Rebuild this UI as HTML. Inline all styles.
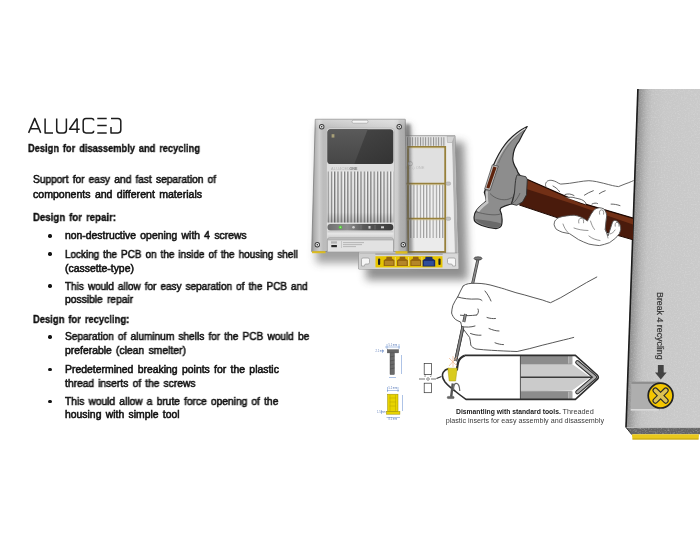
<!DOCTYPE html>
<html><head><meta charset="utf-8">
<style>
html,body{margin:0;padding:0;background:#fff;}
body{width:700px;height:540px;position:relative;overflow:hidden;font-family:"Liberation Sans",sans-serif;}
.t{position:absolute;white-space:nowrap;font-size:10.4px;line-height:10.4px;color:#111;transform-origin:0 0;-webkit-text-stroke:0.55px #111;word-spacing:1.4px;will-change:transform;}
.b{font-weight:bold;-webkit-text-stroke:0.35px #111;word-spacing:1.5px;font-size:10.8px;line-height:10.8px;}
.bl{position:absolute;width:3.3px;height:3.3px;border-radius:50%;background:#141414;left:48.25px;}
svg{position:absolute;left:0;top:0;will-change:transform;}
</style></head><body>
<svg width="700" height="540" viewBox="0 0 700 540">
<g fill="none" stroke="#1c1c1c" stroke-width="1.5" stroke-linejoin="round">
<path d="M28.6,132.9 L34.7,118.4 L40.7,132.9 M30.6,128.8 L38.7,128.8"/>
<path d="M45.1,118.4 V132.9 H53"/>
<path d="M56.7,118.4 V130 Q56.7,132.9 59.6,132.9 H63.5 Q66.4,132.9 66.4,130 V118.4"/>
<path d="M77.1,118.4 L69.5,129.2 H79.7 M77.1,118.4 V133.1"/>
<path d="M93.7,120.6 Q93.7,118.4 91.5,118.4 H86 Q83.2,118.4 83.2,121.2 V130.1 Q83.2,132.9 86,132.9 H91.5 Q93.7,132.9 93.7,130.7"/>
<path d="M97.3,118.4 H106.7 M97.3,125.6 H106.7 M97.3,132.9 H106.7"/>
<path d="M111,118.4 H118 Q120.8,118.4 120.8,121.2 V130.1 Q120.8,132.9 118,132.9 H111 V127"/>
</g>

<!-- BIG PANEL -->
<defs>
<linearGradient id="pgr" gradientUnits="userSpaceOnUse" x1="631.5" y1="258" x2="701" y2="260.4">
<stop offset="0" stop-color="#888"/><stop offset="0.07" stop-color="#a0a0a0"/><stop offset="0.14" stop-color="#b6b6b6"/><stop offset="0.22" stop-color="#c3c3c3"/><stop offset="0.4" stop-color="#c8c8c8"/><stop offset="1" stop-color="#cacaca"/>
</linearGradient>
<filter id="noise" x="0" y="0" width="100%" height="100%"><feTurbulence type="fractalNoise" baseFrequency="0.7" numOctaves="2" seed="5" result="t"/><feColorMatrix in="t" type="matrix" values="0 0 0 0 1  0 0 0 0 1  0 0 0 0 1  1.2 0 0 0 -0.55" result="w"/><feComposite in="w" in2="SourceGraphic" operator="in"/></filter>
</defs>
<polygon points="637.6,89 700,89 700,427.4 625.8,427.4" fill="url(#pgr)"/>
<polygon points="637.6,89 700,89 700,427.4 625.8,427.4" fill="#000" filter="url(#noise)" opacity="0.35"/>
<!-- cut face -->
<polygon points="625.8,427.4 700,427.4 700,434.3 631.6,434.3" fill="#646464"/>
<polygon points="625.8,427.4 700,427.4 700,434.3 631.6,434.3" fill="#000" filter="url(#noise)" opacity="0.6"/>
<line x1="626" y1="427.6" x2="700" y2="427.6" stroke="#d4d4d4" stroke-width="0.6"/>
<!-- yellow strip -->
<polygon points="631.8,434.3 699,434.3 698.6,439.4 632.6,439.4" fill="#e9c81c"/>
<line x1="632.4" y1="439" x2="698.6" y2="439" stroke="#b89a10" stroke-width="0.8"/>
<!-- dark left edge -->
<line x1="637.9" y1="89" x2="626" y2="427.4" stroke="#1c1c1c" stroke-width="1.6"/>
<line x1="626" y1="427.4" x2="631.8" y2="434.6" stroke="#333" stroke-width="1"/>
<!-- recessed pocket -->
<polygon points="631.7,381.7 660,381.7 660,410.3 630.7,410.3" fill="#aeaeae"/>
<rect x="631.5" y="381.7" width="28" height="2.2" fill="#8e8e8e"/>
<rect x="630.8" y="409.2" width="28" height="1.3" fill="#e4e4e4"/>
<!-- screw -->
<circle cx="660.6" cy="395.6" r="12.4" fill="#f4c600" stroke="#222" stroke-width="1.7"/>
<path d="M655.4,390.4 L660.6,395.6 L665.8,390.4 M655.4,400.8 L660.6,395.6 L665.8,400.8" stroke="#2a2a2a" stroke-width="5.8" stroke-linecap="round" fill="none"/>
<path d="M655.4,390.4 L660.6,395.6 L665.8,390.4 M655.4,400.8 L660.6,395.6 L665.8,400.8" stroke="#dcc254" stroke-width="3.6" stroke-linecap="round" fill="none"/>
<!-- arrow -->
<rect x="657.9" y="365" width="5.8" height="8" fill="#434343"/>
<polygon points="655,372.6 666.6,372.6 660.8,379.4" fill="#434343"/>
<!-- rotated text -->
<text transform="translate(657.2,292) rotate(90)" font-family="Liberation Sans" font-size="9.4" fill="#363636" stroke="#363636" stroke-width="0.2" textLength="67.6" lengthAdjust="spacingAndGlyphs">Break 4 recycling</text>

<defs>
<filter id="blur4" x="-30%" y="-30%" width="160%" height="160%"><feGaussianBlur stdDeviation="4"/></filter>
<filter id="blur2" x="-30%" y="-30%" width="160%" height="160%"><feGaussianBlur stdDeviation="1.5"/></filter>
<linearGradient id="scrL" x1="0" y1="0" x2="0" y2="1"><stop offset="0" stop-color="#5a5a5a"/><stop offset="1" stop-color="#464646"/></linearGradient>
<linearGradient id="scrR" x1="0" y1="0" x2="1" y2="1"><stop offset="0" stop-color="#4a4a4a"/><stop offset="1" stop-color="#333"/></linearGradient>
<linearGradient id="fr" x1="0" y1="0" x2="1" y2="0"><stop offset="0" stop-color="#939393"/><stop offset="0.03" stop-color="#b0b0b0"/><stop offset="0.08" stop-color="#cecece"/><stop offset="0.12" stop-color="#bcbcbc"/><stop offset="0.5" stop-color="#c8c8c8"/><stop offset="0.86" stop-color="#d2d2d2"/><stop offset="0.9" stop-color="#cacaca"/><stop offset="0.925" stop-color="#b2b2b2"/><stop offset="0.975" stop-color="#aaaaaa"/><stop offset="1" stop-color="#8c8c8c"/></linearGradient>
<linearGradient id="frT" x1="0" y1="0" x2="0" y2="1"><stop offset="0" stop-color="#fff" stop-opacity="0.35"/><stop offset="1" stop-color="#fff" stop-opacity="0"/></linearGradient>
<linearGradient id="strip" x1="0" y1="0" x2="0" y2="1"><stop offset="0" stop-color="#c8c8c8"/><stop offset="0.4" stop-color="#e6e6e6"/><stop offset="1" stop-color="#d0d0d0"/></linearGradient>
<linearGradient id="led" x1="0" y1="0" x2="1" y2="0"><stop offset="0" stop-color="#6e6e6e"/><stop offset="0.3" stop-color="#8e8e8e"/><stop offset="0.55" stop-color="#5a5a5a"/><stop offset="1" stop-color="#3a3a3a"/></linearGradient>
<linearGradient id="finshade" x1="0" y1="0" x2="0" y2="1"><stop offset="0" stop-color="#000" stop-opacity="0"/><stop offset="0.8" stop-color="#000" stop-opacity="0.04"/><stop offset="1" stop-color="#000" stop-opacity="0.22"/></linearGradient>
<pattern id="fins" x="327.5" y="0" width="3.29" height="10" patternUnits="userSpaceOnUse"><rect width="3.29" height="10" fill="#f2f2f2"/><rect x="0" width="1.2" height="10" fill="#7c7c7c"/><rect x="1.2" width="0.6" height="10" fill="#b0b0b0"/></pattern>
<pattern id="fins2" x="407" y="0" width="3.2" height="10" patternUnits="userSpaceOnUse"><rect width="3.2" height="10" fill="#f0f0f0"/><rect x="0" width="1.1" height="10" fill="#9a9a9a"/></pattern>
<pattern id="fins3" x="407" y="0" width="2.6" height="10" patternUnits="userSpaceOnUse"><rect width="2.6" height="10" fill="#e4e4e4"/><rect x="0" width="1" height="10" fill="#8e8e8e"/></pattern>
</defs>
<g opacity="0.6" filter="url(#blur4)"><polygon points="412,142 464,142 468,280 366,280 366,264 412,264" fill="#444"/></g>
<g opacity="0.5" filter="url(#blur4)"><polygon points="318,126 410,126 412,263 316,263" fill="#444"/></g>
<polygon points="360,135.7 455,135.7 458.8,269 358.7,269" fill="#e4e4e4" stroke="#8e8e8e" stroke-width="0.8"/>
<polygon points="451.8,137 454.6,137 458,268.3 455.2,268.3" fill="#b4b4b4"/>
<polygon points="445.6,137 451.8,137 455,268 449,268" fill="#ececec"/>
<rect x="405" y="146.5" width="40.5" height="106" fill="#e0e0e0"/>
<rect x="405" y="137.2" width="40.5" height="8.6" fill="url(#fins3)"/>
<rect x="405" y="184.5" width="40.5" height="33.5" fill="url(#fins2)"/>
<rect x="405" y="219.5" width="40.5" height="27" fill="url(#fins2)"/>
<rect x="405" y="238" width="40.5" height="13.5" fill="#ebebeb"/>
<text x="402" y="169" font-family="Liberation Sans" font-size="4" fill="#bbb">CED ◇ ONE</text>
<g fill="none" stroke="#97803a" stroke-width="1.8"><path d="M408,252 V146.8 H445.2 V252 H405"/><path d="M405,183.6 H445.2 M405,218.7 H445.2"/></g>
<g fill="none" stroke="#d8c890" stroke-width="0.5"><path d="M405,148 H444"/><path d="M405,184.8 H444 M405,219.9 H444"/></g>
<rect x="446" y="182.0" width="4.6" height="3.2" rx="1.4" fill="#c4c4c4" stroke="#9a9a9a" stroke-width="0.5"/>
<rect x="446" y="217.1" width="4.6" height="3.2" rx="1.4" fill="#c4c4c4" stroke="#9a9a9a" stroke-width="0.5"/>
<circle cx="410.3" cy="163.7" r="2.1" fill="#e8e8e8" stroke="#a0a0a0" stroke-width="0.7"/>
<path d="M447,136.5 L454.5,136.5 L452.2,142.5 L447.5,142.5 Z" fill="#d4d4d4" stroke="#a0a0a0" stroke-width="0.5"/>
<rect x="359.2" y="253" width="99" height="15.6" fill="#dedede"/>
<rect x="375.2" y="256.2" width="67.5" height="11.3" fill="#e6c400"/>
<rect x="378" y="258.6" width="2.2" height="6.4" rx="1" fill="#222"/>
<rect x="438.4" y="258.6" width="2.2" height="6.4" rx="1" fill="#222"/>
<rect x="359.5" y="252.5" width="98" height="2.6" fill="#8a8a8a" opacity="0.6"/>
<polygon points="386.4,256.8 391.9,256.8 391.9,258.4 394.59999999999997,260.2 394.59999999999997,265.9 383.7,265.9 383.7,260.2 386.4,258.4" fill="#94650f"/>
<rect x="384.9" y="261" width="8.5" height="4.2" fill="#b48628"/>
<rect x="394.8" y="257" width="1" height="9" fill="#efd870"/>
<polygon points="399.7,256.8 405.2,256.8 405.2,258.4 407.9,260.2 407.9,265.9 397.0,265.9 397.0,260.2 399.7,258.4" fill="#94650f"/>
<rect x="398.2" y="261" width="8.5" height="4.2" fill="#b48628"/>
<rect x="408.1" y="257" width="1" height="9" fill="#efd870"/>
<polygon points="413.0,256.8 418.5,256.8 418.5,258.4 421.2,260.2 421.2,265.9 410.3,265.9 410.3,260.2 413.0,258.4" fill="#94650f"/>
<rect x="411.5" y="261" width="8.5" height="4.2" fill="#b48628"/>
<rect x="421.40000000000003" y="257" width="1" height="9" fill="#efd870"/>
<polygon points="425.4,256.8 432.4,256.8 432.4,258.4 435.2,260.2 435.2,266.6 422.6,266.6 422.6,260.2 425.4,258.4" fill="#1b2c68"/>
<rect x="424" y="261" width="9.8" height="4.6" fill="#2e4e9a"/>
<rect x="359.3" y="253.5" width="16" height="15" fill="#cfcfcf"/>
<path d="M361.5,266 V259.5 Q361.5,258 363,258 H368 Q369.5,258 369.5,259.5 V262.5 Q369.5,264 368,264 H366 Q364.5,264 364.5,265.5 V266 Z" fill="#f6f6f6" stroke="#8a8a8a" stroke-width="0.6"/>
<rect x="442.7" y="253.5" width="15" height="15" fill="#d8d8d8"/>
<path d="M455.5,266 V259.5 Q455.5,258 454,258 H449 Q447.5,258 447.5,259.5 V262.5 Q447.5,264 449,264 H451 Q452.5,264 452.5,265.5 V266 Z" fill="#f6f6f6" stroke="#8a8a8a" stroke-width="0.6"/>
<g opacity="0.6" filter="url(#blur2)"><polygon points="405,124 410.5,124 412.5,253 405,253" fill="#555"/></g>
<polygon points="315.3,119.3 405.2,119.3 407.2,251.6 311.7,251.6" fill="url(#fr)" stroke="#7e7e7e" stroke-width="0.8"/>
<polygon points="315.3,119.3 405.2,119.3 405.4,128.5 315.1,128.5" fill="url(#frT)"/>
<rect x="352" y="120.2" width="16" height="3" rx="1.5" fill="#f6f6f6" stroke="#8a8a8a" stroke-width="0.5"/>
<rect x="326.4" y="128" width="68" height="123.6" rx="3.2" fill="#dedede" stroke="#b0b0b0" stroke-width="0.6"/>
<rect x="327.5" y="129.2" width="65.8" height="34.8" rx="3.2" fill="url(#scrR)"/>
<path d="M330.7,129.2 H367.7 L354.3,164 H330.7 Q327.5,164 327.5,160.8 V132.4 Q327.5,129.2 330.7,129.2 Z" fill="url(#scrL)"/>
<rect x="331.6" y="134.2" width="2.8" height="3.4" fill="#a8a078"/>
<text x="331" y="169.6" font-family="Liberation Sans" font-size="3.8" fill="#b4b4b4" letter-spacing="0.25">ALU4CED</text><text x="349.5" y="169.6" font-family="Liberation Sans" font-size="3.6" fill="#777" font-weight="bold">ONE</text>
<rect x="327.5" y="171.5" width="65.8" height="51" fill="url(#fins)"/>
<rect x="327.5" y="171.5" width="65.8" height="51" fill="url(#finshade)"/>
<rect x="327.5" y="223.9" width="65.8" height="6.7" rx="3" fill="url(#led)"/>
<circle cx="340.4" cy="227.2" r="1.7" fill="#58c840"/><circle cx="340.4" cy="227.2" r="0.8" fill="#9ef08a"/>
<g fill="#cfcfcf"><circle cx="353.5" cy="227.3" r="1.3"/><rect x="368.5" y="226" width="2" height="2.6"/><rect x="381" y="226.3" width="3" height="2"/></g>
<g stroke="#8a8a8a" stroke-width="0.5"><line x1="345" y1="225" x2="345" y2="229.5"/><line x1="361" y1="225" x2="361" y2="229.5"/><line x1="375" y1="225" x2="375" y2="229.5"/></g>
<rect x="327.5" y="230.8" width="65.8" height="7" fill="url(#strip)"/>
<path d="M327.3,251.6 V240 Q327.3,237.9 329.5,237.9 H391.3 Q393.5,237.9 393.5,240 V251.6" fill="#e2e2e2" stroke="#8e8e8e" stroke-width="0.7"/>
<rect x="327.8" y="238.4" width="65.3" height="2" fill="#b4b4b4"/>
<rect x="331" y="241.3" width="6" height="2.3" fill="#b4b4b4"/><rect x="331.3" y="245" width="5.6" height="2.2" fill="#2a2a2a"/>
<rect x="341" y="241" width="0.5" height="7" fill="#aaa"/>
<g fill="#b0b0b0"><rect x="343" y="242.2" width="21" height="0.9"/><rect x="343" y="244.2" width="19" height="0.9"/><rect x="343" y="246.2" width="13" height="0.9"/></g>
<circle cx="321.7" cy="126.7" r="2.7" fill="#3a3a3a"/><circle cx="321.7" cy="126.7" r="1.8" fill="#f0f0f0"/><circle cx="321.7" cy="126.7" r="0.8" fill="#222"/>
<circle cx="399.2" cy="126.7" r="2.7" fill="#3a3a3a"/><circle cx="399.2" cy="126.7" r="1.8" fill="#f0f0f0"/><circle cx="399.2" cy="126.7" r="0.8" fill="#222"/>
<circle cx="317.3" cy="244.7" r="2.7" fill="#3a3a3a"/><circle cx="317.3" cy="244.7" r="1.8" fill="#f0f0f0"/><circle cx="317.3" cy="244.7" r="0.8" fill="#222"/>
<circle cx="403.3" cy="244.7" r="2.7" fill="#3a3a3a"/><circle cx="403.3" cy="244.7" r="1.8" fill="#f0f0f0"/><circle cx="403.3" cy="244.7" r="0.8" fill="#222"/>
<rect x="312" y="251.2" width="13.5" height="2" fill="#dcbc20"/>
<rect x="395.5" y="251.2" width="12" height="2.4" fill="#dcbc20"/>
<!-- NAIL (behind hand) -->
<line x1="478" y1="259.2" x2="455.6" y2="361" stroke="#3a3a3a" stroke-width="3"/>
<line x1="478" y1="259.2" x2="455.6" y2="361" stroke="#8a8a8a" stroke-width="1.6"/>
<ellipse cx="478" cy="258.4" rx="4" ry="1.6" fill="#7a7a7a" stroke="#333" stroke-width="0.7"/>
<!-- LEFT HAND -->
<path d="M463.1,286 C466,283.5 470,283.2 476,283.3 C483,283.3 489,284.5 494,286 C500,287.8 504,288.7 506.8,289.8 C513,292 519,293.6 524.8,295 C531,296.8 537,298.6 542.8,300.1 C545.5,301.2 548,302 550.5,302.7 C554,301 557.5,299.3 560.8,297.6 C566,294.5 571,291.5 576.2,288.6 C583,284.5 590,280.5 596.8,277 L597,336 C590,336.5 582,337 573.7,337.4 C570,338.4 567,339.2 563.4,340 C556,341.8 549.5,343.5 542.8,345.1 C534,347.5 525.5,349.8 517.1,351.5 C508,351.2 499.5,350.8 491.4,350.3 C486,350 481,349.6 476,349 C473.5,348 471.5,346.8 470.8,345.1 C470.5,342.5 470.3,339.8 469.6,337.4 C468.3,335.7 467,334 465.7,332.3 C464.4,330.5 463.2,328.8 461.9,327.1 C461.5,325.5 461.2,323.8 460.6,322 C458.8,321.3 457,320.5 455.4,319.4 C453.5,317.5 452.2,315.3 451.6,313 C451.7,310.5 452.2,307.8 452.9,305.3 C454.3,302.3 456,299.3 458,296.3 C459.6,292.8 461.3,289.3 463.1,286 Z" fill="#fff" stroke="none"/>
<g fill="none" stroke="#444" stroke-width="0.9" stroke-linecap="round" stroke-linejoin="round">
<path d="M463.1,286 C466,283.5 470,283.2 476,283.3 C483,283.3 489,284.5 494,286 C500,287.8 504,288.7 506.8,289.8 C513,292 519,293.6 524.8,295 C531,296.8 537,298.6 542.8,300.1 C545.5,301.2 548,302 550.5,302.7 C554,301 557.5,299.3 560.8,297.6 C566,294.5 571,291.5 576.2,288.6 C583,284.5 590,280.5 596.8,277"/>
<path d="M573.7,337.4 C570,338.4 567,339.2 563.4,340 C556,341.8 549.5,343.5 542.8,345.1 C534,347.5 525.5,349.8 517.1,351.5 C508,351.2 499.5,350.8 491.4,350.3 C486,350 481,349.6 476,349 C473.5,348 471.5,346.8 470.8,345.1 C470.5,342.5 470.3,339.8 469.6,337.4 C468.3,335.7 467,334 465.7,332.3 C464.4,330.5 463.2,328.8 461.9,327.1 C461.5,325.5 461.2,323.8 460.6,322 C458.8,321.3 457,320.5 455.4,319.4 C453.5,317.5 452.2,315.3 451.6,313 C451.7,310.5 452.2,307.8 452.9,305.3 C454.3,302.3 456,299.3 458,296.3 C459.6,292.8 461.3,289.3 463.1,286"/>
<path d="M457.5,297 C463,298.5 470,299.5 476,299 C479,298.8 481,299.5 482,300.5"/>
<path d="M460.4,315.2 C465,315.8 471,315.8 476.7,315"/>
<path d="M476.7,315 C478.5,313.5 479,311 478,309"/>
<path d="M485,291 C487.5,294 489.5,297.5 491,301"/>
<path d="M487,317.5 C490,318.5 493,318.8 495.5,318.5"/>
<path d="M489,328.5 C492.5,330 496,331 499,331"/>
<path d="M495,342.8 C498,344 501,344.6 503.5,344.6"/>
<path d="M470.5,333.5 C474,334.8 478,335.5 481,335.2"/>
<path d="M461.4,326.4 C466,327.5 471,327.3 475,326"/>
</g>
<!-- NAIL lower visible -->
<line x1="462.8" y1="327" x2="455.6" y2="361" stroke="#3a3a3a" stroke-width="3"/>
<line x1="462.8" y1="327" x2="455.6" y2="361" stroke="#8a8a8a" stroke-width="1.6"/>
<line x1="465.5" y1="314" x2="463.8" y2="322" stroke="#3a3a3a" stroke-width="3"/>
<line x1="465.5" y1="314" x2="463.8" y2="322" stroke="#8a8a8a" stroke-width="1.6"/>
<!-- CROSS SECTION -->
<polygon points="520.4,356 575.4,356 599,377.2 575.4,399.2 520.4,399.2" fill="#fff"/>
<rect x="520.4" y="356" width="47.9" height="7.9" fill="#8c8c8c"/>
<rect x="568.3" y="356" width="4.2" height="7.9" fill="#a6a6a6"/>
<rect x="520.4" y="391.4" width="47.9" height="7.9" fill="#8c8c8c"/>
<rect x="568.3" y="391.4" width="4.2" height="7.9" fill="#a6a6a6"/>
<polygon points="520.4,363.9 572,363.9 590.6,377.2 572,390.6 520.4,391.4" fill="#cbcbcb"/>
<line x1="520.4" y1="363.9" x2="571.6" y2="363.9" stroke="#777" stroke-width="0.5"/>
<line x1="520.4" y1="391.4" x2="571.6" y2="391.4" stroke="#777" stroke-width="0.5"/>
<path d="M577.4,362.3 L595,377.2 L577.4,392.1" fill="none" stroke="#2e2e2e" stroke-width="4.4" stroke-linejoin="round" stroke-linecap="round"/>
<path d="M577.4,362.3 L595,377.2 L577.4,392.1" fill="none" stroke="#b0b0b0" stroke-width="2.4" stroke-linejoin="round" stroke-linecap="round"/>
<line x1="520.4" y1="377.2" x2="592" y2="377.2" stroke="#3a3a3a" stroke-width="1.4"/>
<line x1="520.4" y1="356" x2="520.4" y2="399" stroke="#444" stroke-width="0.9"/>
<path d="M464.8,355.4 H575.4 L597.2,375 Q599.4,377.2 597.2,379.4 L575.4,399.4 H466 C462,396.5 458,393.5 455,391 C451,388 447.5,385 445,382 C442.5,378.5 441.8,375 443.2,372.3 C444.5,370 446.5,369 448.5,368.6" fill="none" stroke="#2e2e2e" stroke-width="1.6" stroke-linejoin="round"/>
<path d="M464.8,355.4 C462,356.5 459.5,358.5 458.4,361.5 C457.5,364 457.2,367 456.9,370.5" fill="none" stroke="#2e2e2e" stroke-width="2.2"/>
<!-- yellow insert -->
<path d="M447.8,368.2 H457.2 L456.6,373 L455.6,381 H449.2 L448.3,373 Z" fill="#d9cb1e" stroke="#a89a10" stroke-width="0.5"/>
<!-- sparkle -->
<g stroke="#f0b890" stroke-width="0.7"><line x1="449" y1="358" x2="457" y2="366"/><line x1="457" y1="357" x2="449" y2="366"/><line x1="453" y1="356" x2="453" y2="367"/></g>
<!-- screw under insert -->
<path d="M452.8,383.5 L451.2,396.6" stroke="#555" stroke-width="2.4"/>
<rect x="447.3" y="396.4" width="6.8" height="2.2" rx="0.8" fill="#666" stroke="#333" stroke-width="0.4"/>
<path d="M453.5,390 C453.8,384 455,383.2 456.5,383.4 C458.5,383.6 459.5,385 459.8,391" fill="none" stroke="#666" stroke-width="1.2"/>
<!-- small side diagram -->
<g fill="#fff" stroke="#333" stroke-width="0.7">
<rect x="424.2" y="363.6" width="7.4" height="11"/>
<rect x="424.2" y="383.2" width="7.4" height="9.5"/>
</g>
<g fill="none" stroke="#333" stroke-width="0.7">
<path d="M426.5,379 L428,377.5 L429.5,379 L428,380.5 Z"/>
<line x1="419" y1="379" x2="425" y2="379"/><line x1="431" y1="379" x2="436" y2="379"/>
<path d="M436.5,378.5 L441.5,376.5" stroke-width="1.2"/>
</g>
<text x="424" y="377" font-family="Liberation Sans" font-size="3" fill="#333">3</text>
<text x="430" y="377" font-family="Liberation Sans" font-size="3" fill="#333">2</text>
<!-- screws detail drawings -->
<g fill="none" stroke="#4a78c8" stroke-width="0.45">
<line x1="385" y1="347" x2="400" y2="347"/><line x1="382.5" y1="349.5" x2="382.5" y2="353"/>
<line x1="401.5" y1="355" x2="401.5" y2="374"/><line x1="389" y1="377.5" x2="396" y2="377.5"/>
<line x1="387" y1="344" x2="387" y2="349"/><line x1="399" y1="344" x2="399" y2="349"/>
<line x1="387" y1="390.5" x2="399" y2="390.5"/><line x1="402.5" y1="395" x2="402.5" y2="411"/>
<line x1="386.5" y1="417.5" x2="400" y2="417.5"/><line x1="381.5" y1="410" x2="381.5" y2="414"/>
<line x1="387.5" y1="387" x2="387.5" y2="392"/><line x1="398" y1="387" x2="398" y2="392"/>
</g>
<g font-family="Liberation Sans" font-size="2.6" fill="#5a7ab8">
<text x="388.5" y="346">5.1 mm</text><text x="375.5" y="352">2.1 mm</text>
<text x="388.5" y="389">5.2 mm</text><text x="377" y="413">1.5 mm</text><text x="388.5" y="419.5">8.5 mm</text>
</g>
<rect x="387.3" y="349.7" width="11.3" height="3.2" fill="#666" stroke="#444" stroke-width="0.4"/>
<rect x="390" y="352.9" width="4.4" height="21.7" fill="#6a6a6a" stroke="#444" stroke-width="0.4"/>
<g stroke="#444" stroke-width="0.5"><line x1="390" y1="357" x2="394.4" y2="356"/><line x1="390" y1="361" x2="394.4" y2="360"/><line x1="390" y1="365" x2="394.4" y2="364"/><line x1="390" y1="369" x2="394.4" y2="368"/></g>
<rect x="387.6" y="394.2" width="10.4" height="17.5" fill="#e8d400" stroke="#9a8a00" stroke-width="0.5"/>
<rect x="386.5" y="411.5" width="13.4" height="2.7" fill="#e8d400" stroke="#9a8a00" stroke-width="0.5"/>
<g stroke="#b8a400" stroke-width="0.5"><line x1="389.5" y1="398" x2="396" y2="398"/><line x1="389.5" y1="402" x2="396" y2="402"/><line x1="389.5" y1="406" x2="396" y2="406"/><line x1="390" y1="395" x2="390" y2="411"/><line x1="395.5" y1="395" x2="395.5" y2="411"/></g>
<!-- caption -->
<text x="456" y="414.2" font-family="Liberation Sans" font-size="7.2" fill="#1a1a1a" font-weight="bold" textLength="104.8" lengthAdjust="spacingAndGlyphs">Dismantling with standard tools.</text>
<text x="562.5" y="414.2" font-family="Liberation Sans" font-size="7.2" fill="#3a3a3a" textLength="31.2" lengthAdjust="spacingAndGlyphs">Threaded</text>
<text x="445.7" y="422.6" font-family="Liberation Sans" font-size="7.2" fill="#3a3a3a" textLength="158.3" lengthAdjust="spacingAndGlyphs">plastic inserts for easy assembly and disassembly</text>

<!-- HANDLE -->
<polygon points="526.9,179.3 580,202.6 633,218.1 633,239.8 563,219.6 519.3,205" fill="#4a1b0c"/>
<polygon points="526.9,179.3 580,202.6 633,218.1 633,224.5 604,214.5 575,204.6 525,188.5" fill="#723016"/>
<polyline points="526.9,179.3 580,202.6 633,218.1" fill="none" stroke="#1e0a04" stroke-width="1.2"/>
<polyline points="519.3,205 563,219.6 633,239.8" fill="none" stroke="#1e0a04" stroke-width="1"/>
<!-- HEAD -->
<path d="M527.2,126.5 C520,130 511,137 505,144.5 C500,151 496,159 492.7,166.7 L485.6,188.7 L484.3,192.2 C485.5,196 486.5,199 486.2,201.3 C483,204 479,207 476.5,210.4 C474,213.5 473.8,218 474.5,220.8 C476,224 485,227.5 496,228.6 C499.5,228.3 501.5,226.5 501.8,224 C502.5,219 501.5,213 500,210 L501,207.8 C505,205.5 509,204.5 511.5,204 L520,175.4 C518,173 517,171 516.7,169.3 C514,165 512.5,162.5 512.8,158 C513,153 515,146 519.3,140.8 C522,135 525,130 527.2,126.5 Z" fill="#8d8d8d" stroke="#222" stroke-width="1.2" stroke-linejoin="round"/>
<!-- highlight left -->
<path d="M525.5,128.5 C519,132.5 511.5,138.5 506.5,145 C501.5,151.5 497.5,159 494.5,166.5" fill="none" stroke="#d4d4d4" stroke-width="1.2"/>
<path d="M524,130.5 C518,134.5 512,140 508,146 C504,151.5 501,157 498.5,163" fill="none" stroke="#6e6e6e" stroke-width="0.8"/>
<!-- face darker bottom -->
<path d="M475,219 C478,223.5 487,226.8 496,227.8 C499.5,227.5 501,226 501.3,223.5 C497,222 485,220 475,219 Z" fill="#6a6a6a"/>
<!-- eye slot -->
<polygon points="492.3,164.8 498.3,166.2 490.2,190.4 484.6,189" fill="#bdbdbd" stroke="#333" stroke-width="0.6"/>
<polygon points="493.4,166.6 496.6,167.4 489.3,188.6 486.3,187.8" fill="#5e230c"/>
<path d="M486,191 C485,195 486,199 486.2,201.3 C483,204 479,207 476.5,210.4 L479,212 C482,208 486,205 488.5,203 C488,199 487.5,195 488,191.5 Z" fill="#c6c6c6"/>
<path d="M490,193.5 C495,199 503,201 509,199 C513,197.5 517,194 520,190" fill="none" stroke="#444" stroke-width="0.6"/>
<path d="M476.5,212 C484,214 494,216 500.5,214" fill="none" stroke="#444" stroke-width="0.6"/>
<!-- collar -->
<path d="M517.3,174.8 L525.8,176.7 L527.3,179.5 L526.5,194.8 L522.5,202 L516.7,205.3 L511.5,204 C513.5,199 514.8,193 515,186 C515.5,180 516,177 517.3,174.8 Z" fill="#8a8a8a" stroke="#2c2c2c" stroke-width="0.9" stroke-linejoin="round"/>
<path d="M520,193 C518,198 514,203 511.5,204" fill="none" stroke="#444" stroke-width="0.6"/>
<!-- RIGHT HAND upper outline -->
<path d="M568.1,197.4 C571,197 573.5,197.3 575.6,198.1 C579,198.8 581.5,199.4 583,200.4 C584.6,201.3 585.6,202.4 585.9,203.6 L586,204.5 L566,197.5 Z" fill="#fff"/>
<g fill="none" stroke="#555" stroke-width="0.9" stroke-linecap="round" stroke-linejoin="round">
<path d="M546.4,187.5 C545,186 545,183 547.4,181.1 C549,180.2 550.5,180.2 551.9,180.4 C553.5,180.7 555,181.2 556.3,181.9 C558,183 559.5,183.8 560.7,184.1 C563.5,183.9 566.5,183.6 569.6,183.3 C572.5,182.8 575.5,182.3 578.5,181.9 C582,181.3 585.5,180.8 588.9,180.7 C591.5,180.8 594,181.2 596.3,181.6 C598.8,182.1 601.3,182.7 603.7,183.3 C606.8,184.1 609.7,184.9 612.6,185.6 C614.6,186 616.5,186.4 618.5,186.6 C620,186.1 621.5,185.5 623,184.8 C625,183.9 627,183.3 628.9,182.6 C630.4,182 631.9,181.3 633.3,180.7"/>
<path d="M566,197.2 C567,197 567.5,197.2 568.1,197.4 C571,197 573.5,197.3 575.6,198.1 C579,198.8 581.5,199.4 583,200.4 C584.6,201.3 585.6,202.4 585.9,203.6"/>
<path d="M584.4,195.2 C587,193.5 590,191.8 593.3,190.7"/>
<path d="M599.3,193.7 C601,192.5 603,191.4 605.2,190.7"/>
<path d="M611.1,204.1 C614,204 617,204.6 620,205.6"/>
<path d="M565,194.5 C568,193.5 571,193.8 574,195.5"/>
<path d="M592,204 C594,203 596,202.8 597.5,203.5"/>
<path d="M553,186 C556,187.5 558,189.5 559.5,191.5"/>
</g>
<!-- RIGHT HAND lower fingers -->
<path d="M554.8,221.1 C556,219.3 557.5,218.1 559.3,217.4 C561.8,216.6 564.2,216.1 566.7,215.9 C569.2,215.5 571.6,215.2 574.1,215.2 C576.2,215.5 578.2,216 580,216.7 C581.6,217.3 583,218 584.4,218.9 C585.5,219.6 586.6,220.3 587.4,221.1 C588.5,219 589.5,217 590.4,215.5 C591,214.2 591.4,213.5 591.9,213 C592.8,211.6 593.7,210.4 594.8,209.3 C596.2,208.4 597.8,207.9 599.3,207.8 C600.8,207.8 602.3,208.2 603.7,208.8 C604.6,209.8 605.4,211 605.9,212.2 C606.4,213.4 606.6,214.6 606.7,215.9 C606.5,217.9 606.2,219.9 605.9,221.9 C605.7,224.4 605.4,226.8 605.2,229.3 L608,236 L612.6,221.9 C613.1,221.3 613.6,220.8 614.1,220.4 C615.1,220.4 616.1,220.6 617,221.1 C618.1,222.2 619.1,223.4 620,224.8 C620.5,226.3 620.8,227.8 620.7,229.3 C620.4,230.8 619.9,232.3 619.3,233.7 C618.1,235.2 616.9,236.7 615.6,238.1 C613.7,239.7 611.7,241.2 609.6,242.6 C606.3,243.9 602.8,244.9 599.3,245.6 C595.8,245.3 592.4,244.8 588.9,244.1 C585.3,242.8 581.9,241.3 578.5,239.6 C575.5,237.7 572.6,235.7 569.6,233.7 C567.1,233.3 564.7,232.8 562.2,232.2 C560.2,231.4 558.2,230.4 556.3,229.3 C555.3,227.9 554.6,226.4 554.1,224.8 C554.1,223.5 554.4,222.3 554.8,221.1 Z" fill="#fff" stroke="#555" stroke-width="0.9" stroke-linejoin="round"/>
<g fill="none" stroke="#666" stroke-width="0.7" stroke-linecap="round">
<path d="M578.8,223 C578.2,220.5 579,218.3 581,218.2 C583,218.2 584,220 583.6,222.8"/>
<path d="M599.6,214.2 C599,211.8 599.8,209.8 601.6,209.8 C603.4,209.9 604,211.8 603.6,214.2"/>
<path d="M615.2,226.2 C614.8,224 615.5,222.3 617,222.3 C618.5,222.5 619.3,224 619,226.2"/>
<path d="M574,228 C578,229.5 582,230.3 588,230.5"/>
<path d="M588.9,236 C592,238.5 596,240 600,240.5"/>
<path d="M605.2,229.3 C606.5,232 607.5,235 608,238"/>
<path d="M563,224 C564,227 565.5,230 568,232.5"/>
<path d="M590.5,221 C591.5,224 592.5,227 594.5,229.5"/>
<path d="M610,234 C612,233.5 614,232 615,230"/>
</g>

</svg>
<div class="t b" style="left:28.0px;top:143.16px;transform:scaleX(0.8608)">Design for disassembly and recycling</div>
<div class="t" style="left:33.0px;top:174.80px;transform:scaleX(0.9762)">Support for easy and fast separation of</div>
<div class="t" style="left:33.0px;top:189.70px;transform:scaleX(1.0162)">components and different materials</div>
<div class="t b" style="left:33.0px;top:212.26px;transform:scaleX(0.8925)">Design for repair:</div>
<div class="t" style="left:65.4px;top:231.30px;transform:scaleX(0.9991)">non-destructive opening with 4 screws</div>
<div class="t" style="left:65.4px;top:249.80px;transform:scaleX(0.9532)">Locking the PCB on the inside of the housing shell</div>
<div class="t" style="left:65.4px;top:263.70px;transform:scaleX(1.0026)">(cassette-type)</div>
<div class="t" style="left:65.4px;top:281.70px;transform:scaleX(0.9572)">This would allow for easy separation of the PCB and</div>
<div class="t" style="left:65.4px;top:294.70px;transform:scaleX(0.9886)">possible repair</div>
<div class="t b" style="left:33.0px;top:313.76px;transform:scaleX(0.8722)">Design for recycling:</div>
<div class="t" style="left:65.4px;top:332.20px;transform:scaleX(0.9711)">Separation of aluminum shells for the PCB would be</div>
<div class="t" style="left:65.4px;top:345.70px;transform:scaleX(0.9976)">preferable (clean smelter)</div>
<div class="t" style="left:65.4px;top:365.10px;transform:scaleX(1.0033)">Predetermined breaking points for the plastic</div>
<div class="t" style="left:65.4px;top:378.70px;transform:scaleX(0.9830)">thread inserts of the screws</div>
<div class="t" style="left:65.4px;top:396.80px;transform:scaleX(0.9811)">This would allow a brute force opening of the</div>
<div class="t" style="left:65.4px;top:410.20px;transform:scaleX(1.0007)">housing with simple tool</div>
<div class="bl" style="top:234.25px"></div>
<div class="bl" style="top:252.25px"></div>
<div class="bl" style="top:284.35px"></div>
<div class="bl" style="top:335.25px"></div>
<div class="bl" style="top:367.95px"></div>
<div class="bl" style="top:400.05px"></div>
</body></html>
